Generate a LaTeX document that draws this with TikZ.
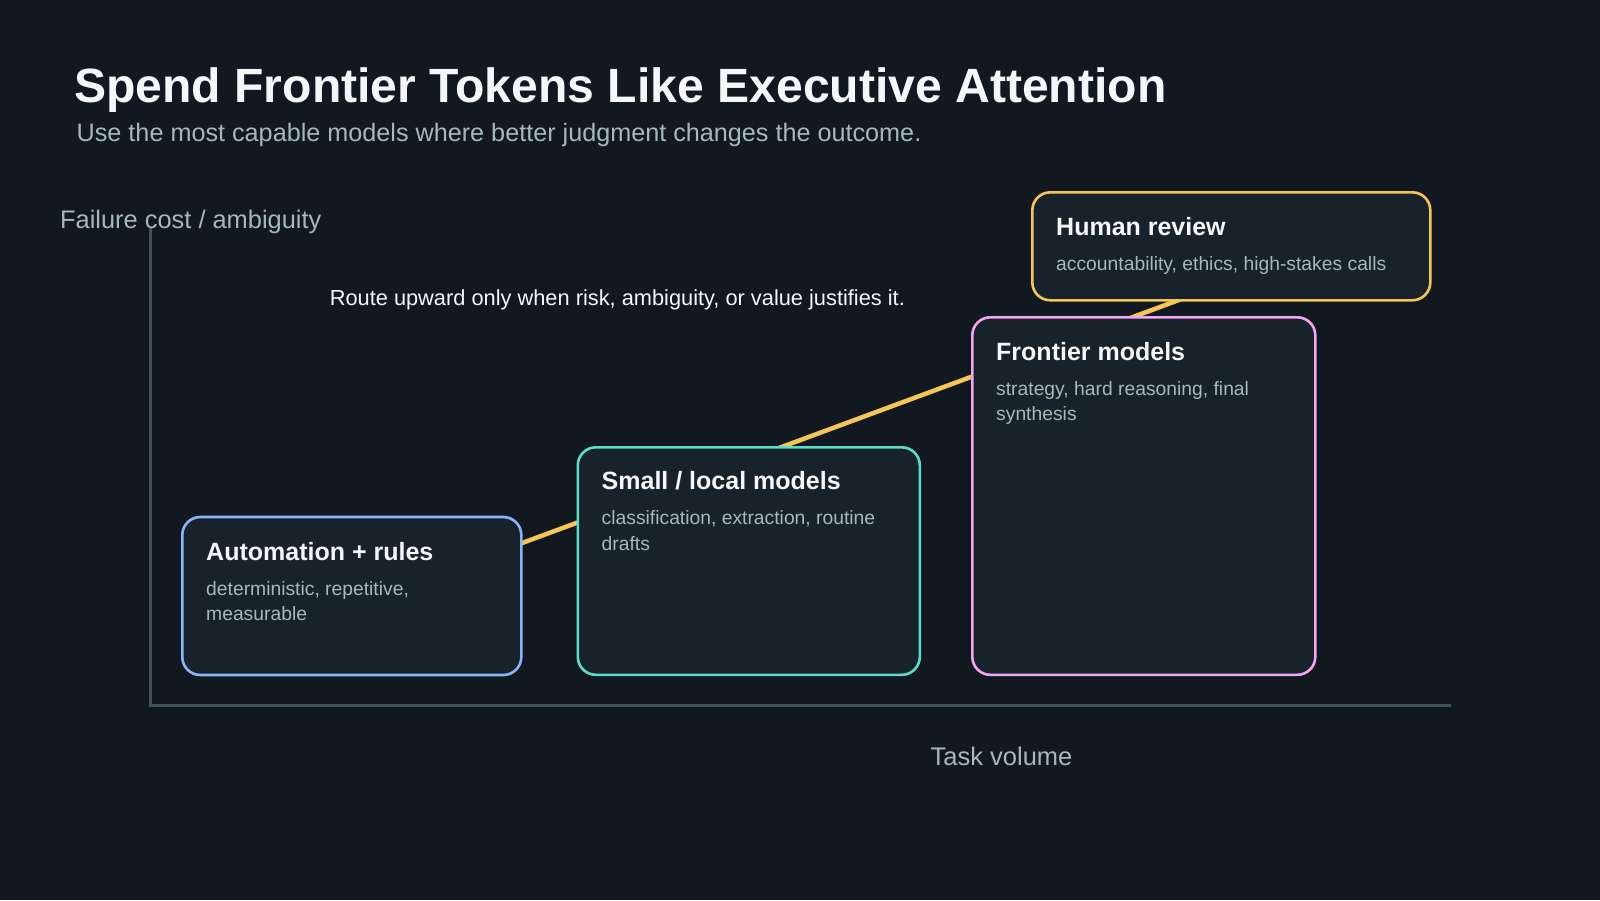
\documentclass[tikz,border=0pt]{standalone}
\usepackage{fontspec}
\setmainfont{Liberation Sans}
\definecolor{bgc}{HTML}{111820}
\definecolor{boxfill}{HTML}{17222A}
\definecolor{axisc}{HTML}{3E5157}
\definecolor{greytxt}{HTML}{A6BAB5}
\definecolor{whitetxt}{HTML}{F4F6F7}
\definecolor{cblue}{HTML}{8AB4F8}
\definecolor{cteal}{HTML}{5EDBC8}
\definecolor{cpink}{HTML}{F0A6F2}
\definecolor{cyellow}{HTML}{F6C55A}
\tikzset{
  stagebox/.style={draw, line width=2.6pt, fill=boxfill, rounded corners=18pt, anchor=north west, inner sep=0pt},
  boxtitle/.style={anchor=base west, inner sep=0pt, text=whitetxt, font=\fontsize{25}{29}\selectfont\bfseries},
  boxdesc/.style={anchor=base west, inner sep=0pt, text=greytxt, font=\fontsize{19.3}{25.5}\selectfont, align=left},
  greylabel/.style={anchor=base west, inner sep=0pt, text=greytxt, font=\fontsize{25.5}{30}\selectfont},
  routeline/.style={draw=cyellow, line width=4.5pt},
  axisline/.style={draw=axisc, line width=3.4pt}
}
\begin{document}
\begin{tikzpicture}[x=1pt,y=-1pt]
\fill[bgc] (0,0) rectangle (1600,900);
\useasboundingbox (0,0) rectangle (1600,900);

% title
\node[anchor=base west, inner sep=0pt, text=whitetxt, font=\fontsize{48.1}{56}\selectfont\bfseries] (title) at (74,102.5) {Spend Frontier Tokens Like Executive Attention};
\node[greylabel, font=\fontsize{25.2}{30}\selectfont] (subtitle) at (76.5,141.2) {Use the most capable models where better judgment changes the outcome.};

% axes
\coordinate (ytop) at (150.7,228);
\coordinate (origin) at (150.7,705.7);
\coordinate (xend) at (1450.7,705.7);
\draw[axisline] (ytop) -- (origin) -- (xend);

\node[greylabel, font=\fontsize{25.4}{30}\selectfont] (ylab) at (60,228.5) {Failure cost / ambiguity};
\node[greylabel] (xlab) at (930.5,765.3) {Task volume};
\node[anchor=base west, inner sep=0pt, text=whitetxt, font=\fontsize{21.8}{26}\selectfont] (route) at (329.6,305) {Route upward only when risk, ambiguity, or value justifies it.};

% route line (behind boxes)
\coordinate (rstart) at (260,640);
\coordinate (rend) at (1260,270);
\draw[routeline] (rstart) -- (rend);

% boxes
\node[stagebox, draw=cblue, minimum width=339pt, minimum height=158pt] (auto) at (181,515.7) {};
\node[stagebox, draw=cteal, minimum width=342pt, minimum height=227.5pt] (small) at (576.5,446) {};
\node[stagebox, draw=cpink, minimum width=343pt, minimum height=357.5pt] (front) at (971,316) {};
\node[stagebox, draw=cyellow, minimum width=398pt, minimum height=108pt] (human) at (1031,191) {};

% box texts
\node[boxtitle] (autot) at (206,560) {Automation + rules};
\node[boxdesc] (autod1) at (206,595) {deterministic, repetitive,};
\node[boxdesc] (autod2) at (206,620) {measurable};

\node[boxtitle] (smallt) at (601.5,489.3) {Small / local models};
\node[boxdesc] (smalld1) at (601.5,524) {classification, extraction, routine};
\node[boxdesc] (smalld2) at (601.5,550) {drafts};

\node[boxtitle] (frontt) at (996,360) {Frontier models};
\node[boxdesc] (frontd1) at (996,395) {strategy, hard reasoning, final};
\node[boxdesc] (frontd2) at (996,420) {synthesis};

\node[boxtitle] (humant) at (1056,235) {Human review};
\node[boxdesc] (humand) at (1056,270) {accountability, ethics, high-stakes calls};
\end{tikzpicture}
\end{document}
